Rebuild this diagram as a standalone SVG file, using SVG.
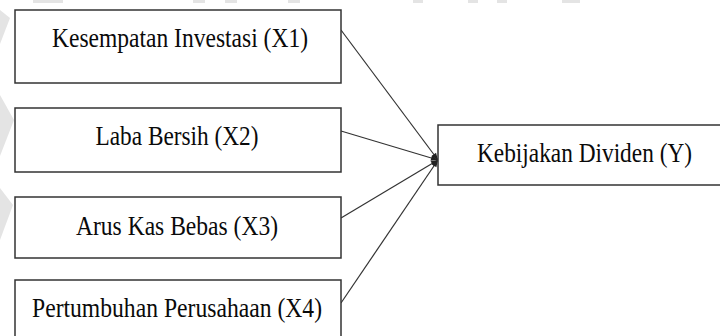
<svg xmlns="http://www.w3.org/2000/svg" width="720" height="336" viewBox="0 0 720 336">
  <style>
    .box { fill: #ffffff; stroke: #333333; stroke-width: 1.5; }
    .edge { fill: none; stroke: #333333; stroke-width: 1.5; }
    .lbl { font-family: "Liberation Serif", "Times New Roman", serif; font-size: 28px; fill: #0a0a0a; text-anchor: middle; }
    .conn { stroke: #333333; stroke-width: 1.2; fill: none; marker-end: url(#arrow); }
    .wm { fill: #e4e4e4; }
  </style>
  <defs>
    <marker id="arrow" viewBox="0 0 10 10" refX="10" refY="5" markerWidth="10" markerHeight="7" markerUnits="userSpaceOnUse" orient="auto">
      <path d="M0,1 L10,5 L0,9 Z" fill="#222222"/>
    </marker>
  </defs>
  <rect width="720" height="336" fill="#ffffff"/>
  <g id="watermark">
    <path class="wm" d="M0,10 L10,18 L0,44 Z"/>
    <path class="wm" d="M0,95 L14,120 L0,156 Z"/>
    <path class="wm" d="M0,188 L13,205 L0,240 Z"/>
    <rect class="wm" x="33" y="0" width="30" height="3"/>
    <rect class="wm" x="193" y="0" width="12" height="3"/>
    <rect class="wm" x="225" y="0" width="12" height="3"/>
    <rect class="wm" x="288" y="0" width="12" height="3"/>
    <rect class="wm" x="413" y="0" width="10" height="3"/>
    <rect class="wm" x="468" y="0" width="10" height="3"/>
    <rect class="wm" x="497" y="0" width="10" height="3"/>
    <rect class="wm" x="562" y="0" width="18" height="3"/>
  </g>
  <g id="connectors">
    <line class="conn" x1="341" y1="30" x2="438" y2="160"/>
    <line class="conn" x1="341" y1="131" x2="438" y2="160"/>
    <line class="conn" x1="341" y1="218" x2="438" y2="160"/>
    <line class="conn" x1="341" y1="303" x2="438" y2="160"/>
  </g>
  <g id="x1">
    <rect class="box" x="15" y="10" width="326" height="73"/>
    <text class="lbl" x="180" y="47" textLength="256" lengthAdjust="spacingAndGlyphs">Kesempatan Investasi (X1)</text>
  </g>
  <g id="x2">
    <rect class="box" x="15" y="108" width="326" height="64"/>
    <text class="lbl" x="177" y="145" textLength="163" lengthAdjust="spacingAndGlyphs">Laba Bersih (X2)</text>
  </g>
  <g id="x3">
    <rect class="box" x="15" y="197" width="326" height="61"/>
    <text class="lbl" x="177" y="235" textLength="202" lengthAdjust="spacingAndGlyphs">Arus Kas Bebas (X3)</text>
  </g>
  <g id="x4">
    <rect fill="#ffffff" x="15" y="280" width="326" height="56"/>
    <path class="edge" d="M15,336 V280 H341 V336"/>
    <text class="lbl" x="177" y="317" textLength="290" lengthAdjust="spacingAndGlyphs">Pertumbuhan Perusahaan (X4)</text>
  </g>
  <g id="y">
    <rect fill="#ffffff" x="438" y="125" width="282" height="60"/>
    <path class="edge" d="M720,125 H438 V185 H720"/>
    <text class="lbl" x="584.5" y="162" textLength="215" lengthAdjust="spacingAndGlyphs">Kebijakan Dividen (Y)</text>
  </g>
</svg>
